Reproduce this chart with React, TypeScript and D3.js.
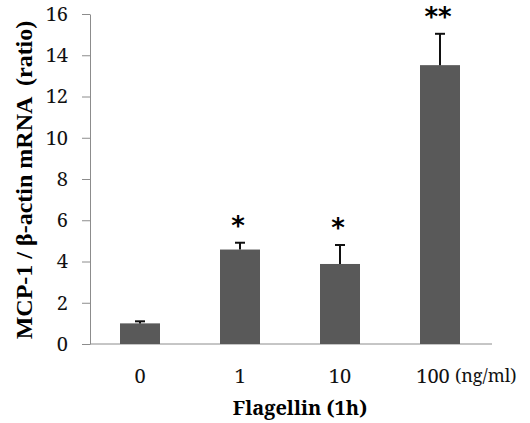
import React, { useEffect, useRef } from "react";
import * as d3 from "d3";

const categories = ["0", "1", "10", "100"];
const means = [1.0, 4.58, 3.88, 13.52];
const errors = [0.1, 0.33, 0.92, 1.52];
const stars = ["", "*", "*", "**"];
const yTicks = [0, 2, 4, 6, 8, 10, 12, 14, 16];

function App() {
  const ref = useRef<SVGSVGElement>(null);
  const width = 530;
  const height = 423;
  const margin = { top: 14, right: 38, bottom: 79, left: 90 };

  useEffect(() => {
    const svg = d3.select(ref.current);
    svg.selectAll("*").remove();

    const x = d3.scaleBand()
      .domain(categories)
      .range([margin.left, width - margin.right - 2])
      .paddingInner(0.6)
      .paddingOuter(0.3);
    const y = d3.scaleLinear()
      .domain([0, 16])
      .range([height - margin.bottom, margin.top]);

    const century = "Noto Serif, serif";
    const times = "Liberation Serif, serif";

    // y axis
    const yAxis = svg.append("g")
      .attr("transform", "translate(" + margin.left + ",0)")
      .call(d3.axisLeft(y).tickValues(yTicks).tickSize(8).tickSizeOuter(0).tickPadding(14));
    yAxis.select(".domain").attr("stroke", "#8c8c8c");
    yAxis.selectAll(".tick line").attr("stroke", "#8c8c8c");
    yAxis.selectAll(".tick text")
      .style("font-family", century)
      .style("font-size", "20px")
      .attr("fill", "#111");

    // x axis line
    svg.append("line")
      .attr("x1", margin.left)
      .attr("x2", width - margin.right)
      .attr("y1", y(0))
      .attr("y2", y(0))
      .attr("stroke", "#8c8c8c");

    // bars
    svg.selectAll("rect.bar")
      .data(means)
      .enter()
      .append("rect")
      .attr("class", "bar")
      .attr("x", (d, i) => x(categories[i]))
      .attr("y", d => y(d))
      .attr("width", x.bandwidth())
      .attr("height", d => y(0) - y(d))
      .attr("fill", "#595959");

    // error bars
    const eb = svg.selectAll("g.err")
      .data(means)
      .enter()
      .append("g")
      .attr("stroke", "#111")
      .attr("stroke-width", 2);
    eb.append("line")
      .attr("x1", (d, i) => x(categories[i]) + x.bandwidth() / 2)
      .attr("x2", (d, i) => x(categories[i]) + x.bandwidth() / 2)
      .attr("y1", d => y(d))
      .attr("y2", (d, i) => y(d + errors[i]));
    eb.append("line")
      .attr("x1", (d, i) => x(categories[i]) + x.bandwidth() / 2 - 5)
      .attr("x2", (d, i) => x(categories[i]) + x.bandwidth() / 2 + 5)
      .attr("y1", (d, i) => y(d + errors[i]))
      .attr("y2", (d, i) => y(d + errors[i]));

    // significance stars
    svg.selectAll("text.star")
      .data(stars)
      .enter()
      .append("text")
      .attr("x", (d, i) => x(categories[i]) + x.bandwidth() / 2 - 2)
      .attr("y", (d, i) => y(means[i] + errors[i]) - 8)
      .attr("text-anchor", "middle")
      .style("font-family", "DejaVu Sans, sans-serif")
      .style("font-weight", "bold")
      .style("font-size", "26px")
      .attr("fill", "#000")
      .text(d => d);

    // x labels
    svg.selectAll("text.xl")
      .data(categories)
      .enter()
      .append("text")
      .attr("x", (d, i) => x(d) + x.bandwidth() / 2 + (i === 3 ? -7 : 0))
      .attr("y", y(0) + 39)
      .attr("text-anchor", "middle")
      .style("font-family", century)
      .style("font-size", "20px")
      .attr("fill", "#111")
      .text(d => d);

    svg.append("text")
      .attr("x", x("100") + x.bandwidth() / 2 + 15)
      .attr("y", y(0) + 38)
      .style("font-family", century)
      .style("font-size", "18px")
      .attr("fill", "#111")
      .text("(ng/ml)");

    svg.append("text")
      .attr("x", 300)
      .attr("y", height - 8)
      .attr("text-anchor", "middle")
      .style("font-family", century)
      .style("font-weight", "bold")
      .style("font-size", "20px")
      .attr("fill", "#000")
      .text("Flagellin (1h)");

    svg.append("text")
      .attr("transform", "translate(32," + (margin.top + 166) + ") rotate(-90)")
      .attr("text-anchor", "middle")
      .style("font-family", times)
      .style("font-weight", "bold")
      .style("font-size", "24px")
      .style("white-space", "pre")
      .attr("fill", "#000")
      .text("MCP-1 / β-actin mRNA  (ratio)");
  }, []);

  return (
    <svg ref={ref} width={width} height={height}
      style={{ position: "absolute", left: 0, top: 0, background: "#fff" }} />
  );
}

export default App;
